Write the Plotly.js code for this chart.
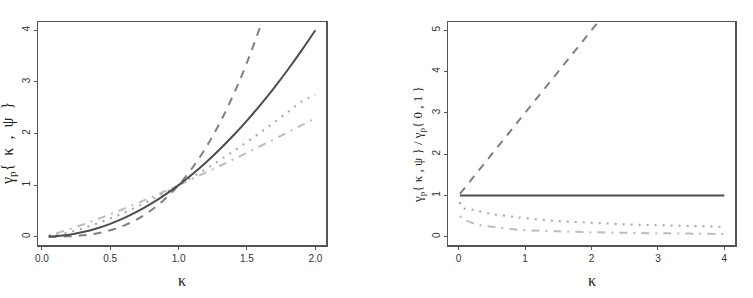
<!DOCTYPE html>
<html>
<head>
<meta charset="utf-8">
<script src="https://cdn.plot.ly/plotly-3.0.1.min.js"></script>
<style>html,body{margin:0;padding:0;background:#fff;}#chart{width:753px;height:298px;}</style>
</head>
<body>
<div id="chart"></div>
<script>
// Left panel: gamma_p{kappa, psi} vs kappa
const kappaLeft = [0.05,0.1,0.2,0.3,0.4,0.5,0.6,0.7,0.8,0.9,1.0,1.1,1.2,1.3,1.4,1.5,1.6,1.7,1.8,1.9,2.0];
const leftSolid = [0.0025,0.01,0.04,0.09,0.16,0.25,0.36,0.49,0.64,0.81,1.0,1.21,1.44,1.69,1.96,2.25,2.56,2.89,3.24,3.61,4.0];
const leftDashed = [0.0001,0.001,0.008,0.027,0.064,0.125,0.216,0.343,0.512,0.729,1.0,1.331,1.728,2.197,2.744,3.375,4.096,4.913,5.832,6.859,8.0];
const leftDotted = [0.011,0.032,0.089,0.164,0.253,0.354,0.465,0.586,0.716,0.854,1.0,1.154,1.315,1.482,1.657,1.837,2.024,2.217,2.415,2.619,2.75];
const leftDashDot = [0.028,0.063,0.145,0.236,0.333,0.435,0.542,0.652,0.765,0.881,1.0,1.121,1.245,1.370,1.497,1.627,1.758,1.891,2.025,2.161,2.297];

// Right panel: ratio gamma_p{kappa, psi} / gamma_p{0, 1} vs kappa
const kappaRight = [0.02,0.05,0.1,0.2,0.3,0.5,0.75,1.0,1.5,2.0,2.5,3.0,3.5,4.0];
const rightSolid = [1,1,1,1,1,1,1,1,1,1,1,1,1,1];
const rightDashed = [1.04,1.1,1.2,1.4,1.6,2.0,2.5,3.0,4.0,5.0,6.0,7.0,8.0,9.0];
const rightDotted = [0.84,0.70,0.68,0.66,0.62,0.55,0.50,0.45,0.38,0.34,0.30,0.28,0.26,0.24];
const rightDashDot = [0.50,0.45,0.40,0.34,0.29,0.24,0.19,0.16,0.13,0.11,0.095,0.085,0.075,0.065];

const xTicksLeft = [0, 0.5, 1, 1.5, 2];
const xTickTextLeft = ["0.0", "0.5", "1.0", "1.5", "2.0"];
const yTicksLeft = [0, 1, 2, 3, 4];
const xTicksRight = [0, 1, 2, 3, 4];
const yTicksRight = [0, 1, 2, 3, 4, 5];

const cSolid = '#4d4d4d', cDashed = '#808080', cDotted = '#a6a6a6', cDashDot = '#bdbdbd';
const W = 2;

function tr(x, y, color, dash, xa, ya) {
  return {x: x, y: y, type: 'scatter', mode: 'lines', xaxis: xa, yaxis: ya,
    line: {color: color, width: W, dash: dash, shape: 'spline'}, showlegend: false, hoverinfo: 'skip'};
}

const data = [
  tr(kappaLeft, leftDashDot, cDashDot, '2px,6px,8px,6px', 'x', 'y'),
  tr(kappaLeft, leftDotted, cDotted, '2px,6px', 'x', 'y'),
  tr(kappaLeft, leftDashed, cDashed, '8px,7px', 'x', 'y'),
  tr(kappaLeft, leftSolid, cSolid, 'solid', 'x', 'y'),
  tr(kappaRight, rightDashDot, cDashDot, '2px,6px,8px,6px', 'x2', 'y2'),
  tr(kappaRight, rightDotted, cDotted, '2px,6px', 'x2', 'y2'),
  tr(kappaRight, rightDashed, cDashed, '8px,7px', 'x2', 'y2'),
  tr(kappaRight, rightSolid, cSolid, 'solid', 'x2', 'y2')
];

const tickFont = {family: 'Liberation Sans, Arial, sans-serif', size: 10, color: '#333'};
const axBase = {showgrid: false, zeroline: false, showline: true, mirror: true, linecolor: '#555', linewidth: 1.5,
  ticks: 'outside', ticklen: 3, tickcolor: '#555', tickwidth: 1, tickfont: tickFont, fixedrange: true};

const yDom = [53/298, 276/298];
const serif = 'Liberation Serif, Times New Roman, serif';
const sp = '\u00a0\u00a0';
const layout = {
  width: 753, height: 298,
  margin: {l: 0, r: 0, t: 0, b: 0},
  paper_bgcolor: '#fff', plot_bgcolor: '#fff',
  xaxis: Object.assign({}, axBase, {domain: [38/753, 326/753], range: [-0.028, 2.078], tickvals: xTicksLeft, ticktext: xTickTextLeft, anchor: 'y'}),
  yaxis: Object.assign({}, axBase, {domain: yDom, range: [-0.16, 4.16], tickvals: yTicksLeft, tickangle: -90, anchor: 'x'}),
  xaxis2: Object.assign({}, axBase, {domain: [448/753, 735/753], range: [-0.16, 4.16], tickvals: xTicksRight, anchor: 'y2'}),
  yaxis2: Object.assign({}, axBase, {domain: yDom, range: [-0.2, 5.2], tickvals: yTicksRight, tickangle: -90, anchor: 'x2'}),
  annotations: [
    {text: 'κ', xref: 'paper', yref: 'paper', x: 182/753, y: (298-280)/298, xanchor: 'center', yanchor: 'middle', showarrow: false,
      font: {family: serif, size: 16, color: '#222'}},
    {text: 'κ', xref: 'paper', yref: 'paper', x: 591.5/753, y: (298-280)/298, xanchor: 'center', yanchor: 'middle', showarrow: false,
      font: {family: serif, size: 16, color: '#222'}},
    {text: 'γ<sub>p</sub>{' + sp + 'κ' + sp + ',' + sp + 'ψ' + sp + '}', xref: 'paper', yref: 'paper', x: 8/753, y: (298-144)/298, xanchor: 'center', yanchor: 'middle', textangle: -90, showarrow: false,
      font: {family: serif, size: 16, color: '#222'}},
    {text: 'γ<sub>p</sub>{ κ , ψ } / γ<sub>p</sub>{ 0 , 1 }', xref: 'paper', yref: 'paper', x: 418/753, y: (298-144)/298, xanchor: 'center', yanchor: 'middle', textangle: -90, showarrow: false,
      font: {family: serif, size: 13, color: '#222'}}
  ]
};

Plotly.newPlot('chart', data, layout, {staticPlot: true, displayModeBar: false});
</script>
</body>
</html>
